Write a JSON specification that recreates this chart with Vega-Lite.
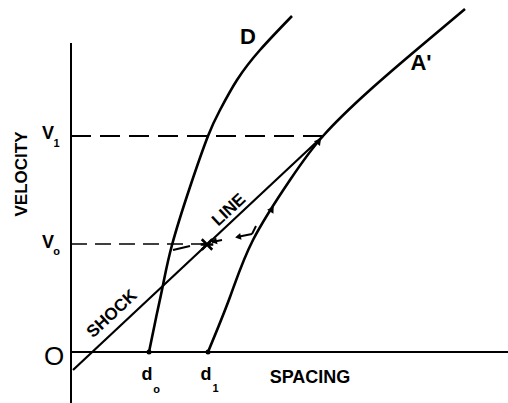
{
  "$schema": "https://vega.github.io/schema/vega-lite/v6.json",
  "width": 508,
  "height": 403,
  "autosize": {"type": "none"},
  "padding": 0,
  "background": "white",
  "config": {"view": {"stroke": null}},
  "datasets": {
    "curves": [
      {"curve": "D", "i": 0, "spacing": 7.8, "velocity": 0},
      {"curve": "D", "i": 1, "spacing": 8.5, "velocity": 3.4},
      {"curve": "D", "i": 2, "spacing": 9.2, "velocity": 6.7},
      {"curve": "D", "i": 3, "spacing": 10.1, "velocity": 10.7},
      {"curve": "D", "i": 4, "spacing": 11.9, "velocity": 16.5},
      {"curve": "D", "i": 5, "spacing": 13.7, "velocity": 21.6},
      {"curve": "D", "i": 6, "spacing": 14.9, "velocity": 24.2},
      {"curve": "D", "i": 7, "spacing": 16.6, "velocity": 27.2},
      {"curve": "D", "i": 8, "spacing": 18.9, "velocity": 30.2},
      {"curve": "D", "i": 9, "spacing": 22.1, "velocity": 33.6},
      {"curve": "A'", "i": 0, "spacing": 13.7, "velocity": 0},
      {"curve": "A'", "i": 1, "spacing": 15.9, "velocity": 5.5},
      {"curve": "A'", "i": 2, "spacing": 18.2, "velocity": 11.2},
      {"curve": "A'", "i": 3, "spacing": 21.9, "velocity": 17.2},
      {"curve": "A'", "i": 4, "spacing": 25.2, "velocity": 21.6},
      {"curve": "A'", "i": 5, "spacing": 29.9, "velocity": 26.2},
      {"curve": "A'", "i": 6, "spacing": 35.0, "velocity": 30.6},
      {"curve": "A'", "i": 7, "spacing": 39.4, "velocity": 34.3},
      {"curve": "shock", "i": 0, "spacing": 0.2, "velocity": -1.8},
      {"curve": "shock", "i": 1, "spacing": 25.2, "velocity": 21.6}
    ],
    "axes": [
      {"spacing": 0, "velocity": -5.1, "spacing2": 0, "velocity2": 30.9},
      {"spacing": 0, "velocity": 0, "spacing2": 43.7, "velocity2": 0}
    ],
    "levels": [
      {"level": "v1", "spacing": 0, "spacing2": 25.2, "velocity": 21.6},
      {"level": "v0", "spacing": 0, "spacing2": 13.6, "velocity": 10.8}
    ],
    "moves": [
      {"spacing": 10.2, "velocity": 10.2, "spacing2": 11.9, "velocity2": 10.6},
      {"spacing": 14.1, "velocity": 11.0, "spacing2": 15.1, "velocity2": 11.2},
      {"spacing": 16.6, "velocity": 11.5, "spacing2": 18.1, "velocity2": 11.8},
      {"spacing": 18.1, "velocity": 11.8, "spacing2": 18.5, "velocity2": 12.6}
    ],
    "labels": [
      {"label": "D", "kind": "curve", "spacing": 17.7, "velocity": 31.5},
      {"label": "A'", "kind": "curve", "spacing": 35.0, "velocity": 28.9},
      {"label": "VELOCITY", "kind": "ytitle", "spacing": -4.9, "velocity": 17.8},
      {"label": "SPACING", "kind": "xtitle", "spacing": 23.9, "velocity": -2.6},
      {"label": "SHOCK", "kind": "line", "spacing": 4.1, "velocity": 3.8},
      {"label": "LINE", "kind": "line", "spacing": 15.8, "velocity": 14.2},
      {"label": "V", "kind": "main", "spacing": -2.3, "velocity": 21.8},
      {"label": "V", "kind": "main", "spacing": -2.3, "velocity": 10.9},
      {"label": "d", "kind": "main", "spacing": 7.6, "velocity": -2.3},
      {"label": "d", "kind": "main", "spacing": 13.5, "velocity": -2.3},
      {"label": "1", "kind": "sub", "spacing": -1.45, "velocity": 20.8},
      {"label": "o", "kind": "sub", "spacing": -1.45, "velocity": 10.0},
      {"label": "o", "kind": "sub", "spacing": 8.55, "velocity": -3.75},
      {"label": "1", "kind": "sub", "spacing": 14.45, "velocity": -3.65},
      {"label": "O", "kind": "origin", "spacing": -1.7, "velocity": -0.5}
    ]
  },
  "encoding": {
    "x": {"field": "spacing", "type": "quantitative", "axis": null,
          "scale": {"domain": [-7.1, 43.7], "nice": false, "zero": false}},
    "y": {"field": "velocity", "type": "quantitative", "axis": null,
          "scale": {"domain": [-5.1, 35.2], "nice": false, "zero": false}}
  },
  "layer": [
    {
      "data": {"name": "axes"},
      "mark": {"type": "rule", "color": "black", "strokeWidth": 2},
      "encoding": {"x2": {"field": "spacing2"}, "y2": {"field": "velocity2"}}
    },
    {
      "data": {"name": "levels"},
      "transform": [{"filter": "datum.level == 'v1'"}],
      "mark": {"type": "rule", "color": "black", "strokeWidth": 1.8, "strokeDash": [20, 9]},
      "encoding": {"x2": {"field": "spacing2"}}
    },
    {
      "data": {"name": "levels"},
      "transform": [{"filter": "datum.level == 'v0'"}],
      "mark": {"type": "rule", "color": "black", "strokeWidth": 1.5, "strokeDash": [16, 8]},
      "encoding": {"x2": {"field": "spacing2"}}
    },
    {
      "data": {"name": "curves"},
      "transform": [{"filter": "datum.curve != 'shock'"}],
      "mark": {"type": "line", "color": "black", "strokeWidth": 2.6, "interpolate": "natural"},
      "encoding": {"detail": {"field": "curve"}, "order": {"field": "i"}}
    },
    {
      "data": {"name": "curves"},
      "transform": [{"filter": "datum.curve == 'shock'"}],
      "mark": {"type": "line", "color": "black", "strokeWidth": 2.2},
      "encoding": {"order": {"field": "i"}}
    },
    {
      "data": {"name": "moves"},
      "mark": {"type": "rule", "color": "black", "strokeWidth": 2},
      "encoding": {"x2": {"field": "spacing2"}, "y2": {"field": "velocity2"}}
    },
    {
      "data": {"values": [{"spacing": 14.3, "velocity": 11.05}, {"spacing": 16.7, "velocity": 11.5}]},
      "mark": {"type": "point", "shape": "triangle-left", "filled": true, "color": "black", "opacity": 1, "size": 45, "angle": -12}
    },
    {
      "data": {"values": [{"spacing": 20.1, "velocity": 14.3}]},
      "mark": {"type": "point", "shape": "triangle-up", "filled": true, "color": "black", "opacity": 1, "size": 55, "angle": 32}
    },
    {
      "data": {"values": [{"spacing": 24.8, "velocity": 21.1}]},
      "mark": {"type": "point", "shape": "triangle-up", "filled": true, "color": "black", "opacity": 1, "size": 60, "angle": 38}
    },
    {
      "data": {"values": [{"spacing": 7.8, "velocity": 0}, {"spacing": 13.7, "velocity": 0}]},
      "mark": {"type": "circle", "color": "black", "opacity": 1, "size": 25}
    },
    {
      "data": {"values": [{"spacing": 13.6, "velocity": 10.75}]},
      "mark": {"type": "point", "shape": "M-1,-1L1,1M1,-1L-1,1M-1.2,0L1.2,0", "filled": false, "color": "black", "opacity": 1, "strokeWidth": 2.6, "size": 110}
    },
    {
      "data": {"name": "labels"},
      "transform": [{"filter": "datum.kind == 'curve'"}],
      "mark": {"type": "text", "font": "Liberation Sans", "fontWeight": "bold", "fontSize": 22, "align": "center", "baseline": "middle"},
      "encoding": {"text": {"field": "label"}}
    },
    {
      "data": {"name": "labels"},
      "transform": [{"filter": "datum.kind == 'ytitle'"}],
      "mark": {"type": "text", "font": "Liberation Sans", "fontWeight": "bold", "fontSize": 17, "angle": 270, "align": "center", "baseline": "middle"},
      "encoding": {"text": {"field": "label"}}
    },
    {
      "data": {"name": "labels"},
      "transform": [{"filter": "datum.kind == 'xtitle'"}],
      "mark": {"type": "text", "font": "Liberation Sans", "fontWeight": "bold", "fontSize": 18, "align": "center", "baseline": "middle"},
      "encoding": {"text": {"field": "label"}}
    },
    {
      "data": {"name": "labels"},
      "transform": [{"filter": "datum.kind == 'line'"}],
      "mark": {"type": "text", "font": "Liberation Sans", "fontWeight": "bold", "fontSize": 17, "angle": 317, "align": "center", "baseline": "middle"},
      "encoding": {"text": {"field": "label"}}
    },
    {
      "data": {"name": "labels"},
      "transform": [{"filter": "datum.kind == 'main'"}],
      "mark": {"type": "text", "font": "Liberation Sans", "fontWeight": "bold", "fontSize": 18, "align": "center", "baseline": "middle"},
      "encoding": {"text": {"field": "label"}}
    },
    {
      "data": {"name": "labels"},
      "transform": [{"filter": "datum.kind == 'sub'"}],
      "mark": {"type": "text", "font": "Liberation Sans", "fontWeight": "bold", "fontSize": 11, "align": "center", "baseline": "middle"},
      "encoding": {"text": {"field": "label"}}
    },
    {
      "data": {"name": "labels"},
      "transform": [{"filter": "datum.kind == 'origin'"}],
      "mark": {"type": "text", "font": "Liberation Sans", "fontSize": 26, "align": "center", "baseline": "middle"},
      "encoding": {"text": {"field": "label"}}
    }
  ]
}
